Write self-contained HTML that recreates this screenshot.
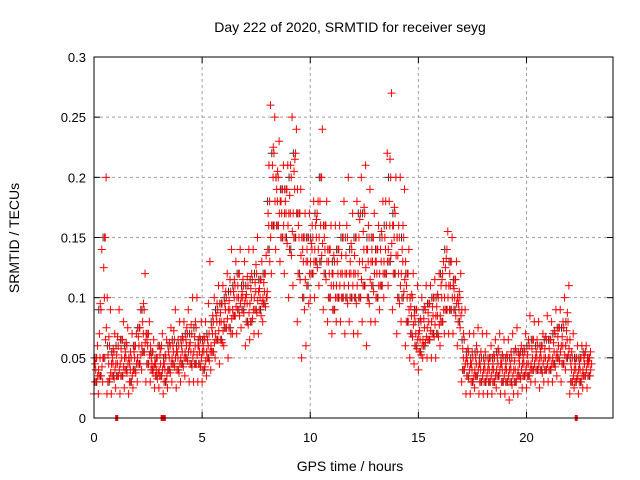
<!DOCTYPE html>
<html><head><meta charset="utf-8"><style>
body{margin:0;background:#fff}
svg{display:block;font-family:"Liberation Sans",sans-serif}
</style></head><body>
<svg id="chart" width="640" height="480" viewBox="0 0 640 480">
<rect width="640" height="480" fill="#fff"/>
<text x="350" y="32" text-anchor="middle" font-size="14">Day 222 of 2020, SRMTID for receiver seyg</text>
<text x="350" y="471" text-anchor="middle" font-size="14">GPS time / hours</text>
<text transform="translate(19,238) rotate(-90)" text-anchor="middle" font-size="14">SRMTID / TECUs</text>
<g id="grid"></g>
<g id="ticks"></g>
<g id="pts"></g>
<rect x="94" y="57" width="519" height="361" fill="none" stroke="#000" stroke-width="1"/>
</svg>
<script>
const xTicks=[0,5,10,15,20];
const yTicks=[0,0.05,0.1,0.15,0.2,0.25,0.3];
const yTickLabels=["0","0.05","0.1","0.15","0.2","0.25","0.3"];
const binStart=0, binStep=0.2;
const lo=[.02,.02,.03,.02,.02,.025,.02,.025,.02,.025,.03,.04,.03,.03,.025,.025,.02,.025,.03,.025,.03,.035,.03,.03,.03,.03,.035,.04,.05,.045,.06,.05,.07,.07,.075,.06,.065,.07,.07,.08,.1,.12,.14,.13,.12,.1,.11,.08,.05,.06,.1,.1,.11,.09,.08,.07,.08,.08,.07,.08,.07,.07,.08,.06,.08,.08,.09,.1,.11,.09,.07,.08,.06,.05,.045,.04,.05,.05,.05,.05,.06,.07,.07,.07,.06,.03,.02,.02,.025,.02,.02,.02,.02,.025,.02,.02,.015,.02,.02,.025,.025,.03,.03,.025,.03,.03,.03,.035,.03,.04,.02,.025,.02,.025,.025];
const q1=[.03,.035,.05,.03,.035,.035,.035,.04,.03,.04,.045,.055,.045,.04,.035,.035,.03,.04,.045,.04,.045,.05,.045,.045,.045,.04,.05,.055,.065,.065,.075,.075,.085,.09,.09,.08,.08,.09,.09,.095,.14,.16,.16,.15,.15,.14,.15,.12,.1,.11,.12,.13,.13,.12,.1,.09,.1,.1,.1,.1,.1,.1,.11,.1,.11,.1,.11,.12,.13,.12,.1,.1,.08,.07,.06,.055,.06,.065,.07,.07,.08,.09,.09,.09,.08,.04,.035,.03,.035,.03,.03,.03,.03,.035,.03,.03,.03,.03,.035,.035,.035,.04,.04,.04,.04,.04,.045,.05,.045,.05,.03,.03,.03,.035,.035];
const mid=[.04,.05,.10,.045,.045,.045,.05,.05,.04,.05,.06,.07,.06,.045,.04,.045,.04,.05,.055,.05,.055,.06,.055,.06,.055,.055,.06,.07,.08,.08,.09,.09,.1,.1,.1,.095,.1,.105,.1,.105,.16,.2,.18,.17,.17,.17,.19,.15,.13,.13,.14,.15,.16,.14,.12,.11,.12,.12,.12,.12,.12,.13,.14,.13,.13,.12,.13,.14,.16,.15,.12,.13,.1,.085,.07,.065,.075,.08,.085,.085,.1,.11,.11,.1,.09,.05,.045,.04,.045,.04,.04,.04,.04,.045,.04,.04,.04,.04,.045,.045,.045,.05,.05,.05,.05,.05,.055,.06,.06,.065,.04,.04,.04,.045,.045];
const q3=[.05,.09,.15,.06,.055,.06,.065,.06,.05,.06,.075,.09,.07,.055,.05,.06,.05,.06,.065,.06,.065,.07,.07,.075,.065,.065,.07,.08,.09,.095,.1,.105,.11,.12,.11,.11,.115,.12,.115,.12,.18,.22,.2,.19,.19,.2,.22,.17,.15,.15,.15,.17,.2,.16,.14,.13,.14,.15,.15,.14,.15,.17,.17,.15,.15,.14,.15,.16,.2,.17,.15,.15,.12,.1,.09,.08,.09,.095,.1,.1,.12,.14,.13,.115,.1,.065,.055,.05,.055,.05,.05,.05,.05,.055,.05,.05,.05,.055,.055,.055,.06,.065,.06,.06,.065,.065,.07,.075,.075,.08,.05,.05,.05,.055,.05];
const hi=[.06,.14,.20,.09,.07,.09,.08,.075,.07,.07,.09,.12,.08,.065,.06,.07,.065,.075,.09,.08,.08,.09,.1,.1,.08,.08,.13,.1,.11,.11,.12,.14,.13,.14,.13,.14,.14,.15,.13,.135,.26,.25,.23,.21,.21,.25,.24,.19,.17,.17,.18,.18,.24,.18,.16,.16,.16,.18,.2,.17,.18,.2,.21,.19,.17,.16,.18,.22,.27,.2,.2,.19,.14,.12,.11,.1,.11,.11,.115,.12,.13,.155,.15,.13,.12,.09,.07,.07,.075,.07,.07,.06,.065,.07,.065,.065,.07,.075,.06,.07,.085,.08,.08,.07,.085,.08,.09,.09,.1,.11,.07,.06,.06,.06,.055];
const zeroTimes=[1.05,3.15,3.25,22.3];

const X0=94,X1=613,Y0=418,Y1=57,XMAX=24,YMAX=0.3;
function xs(t){return X0+(X1-X0)*t/XMAX;}
function ys(v){return Y0-(Y0-Y1)*v/YMAX;}
const NS="http://www.w3.org/2000/svg";
function mk(tag,attrs,parent){const e=document.createElementNS(NS,tag);for(const k in attrs)e.setAttribute(k,attrs[k]);parent.appendChild(e);return e;}
const grid=document.getElementById('grid'),ticks=document.getElementById('ticks'),pts=document.getElementById('pts');
xTicks.forEach(t=>{
  const x=xs(t);
  if(t>0){const g=mk('line',{x1:x,y1:Y0,x2:x,y2:Y1,stroke:'#a0a0a0','stroke-dasharray':'3,3'},grid);
  
  }
  const l=mk('line',{x1:x,y1:Y0,x2:x,y2:Y0-6,stroke:'#000'},ticks);
  
  
  const l2=mk('line',{x1:x,y1:Y1,x2:x,y2:Y1+6,stroke:'#000'},ticks);
  
  
  const tx=mk('text',{x:x,y:Y0+24,'text-anchor':'middle','font-size':'13'},ticks);tx.textContent=String(t);
  
  
});
yTicks.forEach((v,i)=>{
  const y=ys(v);
  if(v>0&&v<YMAX){const g=mk('line',{x1:X0,y1:y,x2:X1,y2:y,stroke:'#a0a0a0','stroke-dasharray':'3,3'},grid);
  
  }
  const l=mk('line',{x1:X0,y1:y,x2:X0+6,y2:y,stroke:'#000'},ticks);
  
  
  const l2=mk('line',{x1:X1,y1:y,x2:X1-6,y2:y,stroke:'#000'},ticks);
  
  
  const tx=mk('text',{x:X0-8,y:y+5,'text-anchor':'end','font-size':'13'},ticks);tx.textContent=yTickLabels[i];
  
  
});
function cross(t,v,color,name){
  const x=xs(t),y=ys(v);
  const p=mk('path',{d:`M${x-4},${y}h8M${x},${y-4}v8`,stroke:color,'stroke-width':'1',fill:'none'},pts);
  
  
}
const series=[lo,q1,mid,q3,hi];
const offs=[0,0.04,0.08,0.12,0.16];
// black series behind
for(let i=0;i<mid.length;i++){const t=binStart+i*binStep;
  cross(t+0.1,q1[i],'#333','black-point');
  cross(t+0.02,q3[i],'#333','black-point');
}
for(let i=0;i<mid.length;i++){const t=binStart+i*binStep;
  series.forEach((s,k)=>{
    cross(t+offs[k],s[i],'#f00','red-point');
    cross(t+offs[(k+2)%5]+0.05,(s[i]+mid[i])/2,'#f00','red-point');
  });
}
zeroTimes.forEach(t=>{const r=mk('rect',{x:xs(t)-1.5,y:Y0-3,width:3,height:6,fill:'#f00'},pts);
  
  });
</script>
</body></html>
